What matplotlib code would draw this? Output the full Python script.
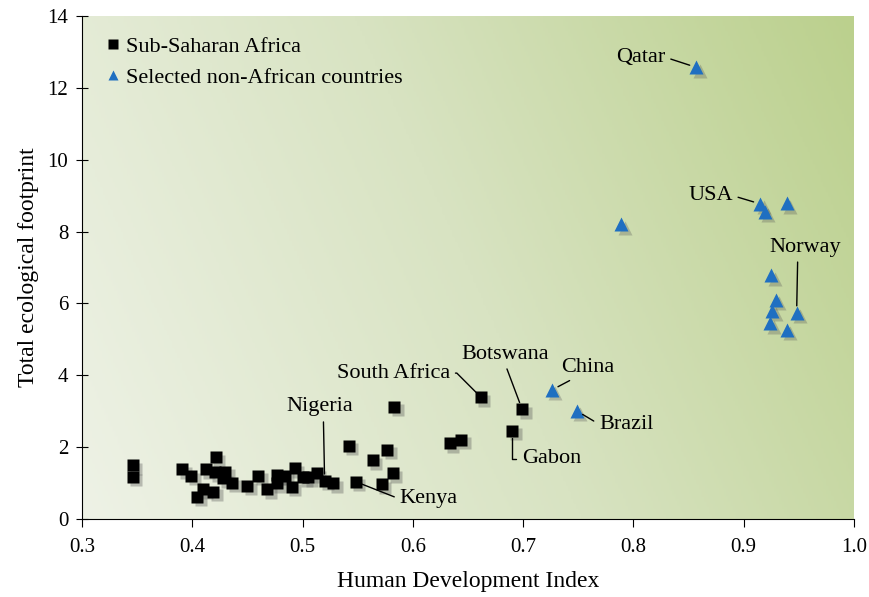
import numpy as np
import matplotlib.pyplot as plt
import matplotlib.transforms as mtransforms
from matplotlib.colors import LinearSegmentedColormap

plt.rcParams['font.family'] = ['Liberation Serif', 'DejaVu Serif']

# Sub-Saharan Africa (HDI, footprint)
africa_hdi = [0.346, 0.346, 0.391, 0.399, 0.4215, 0.412, 0.4206, 0.430, 0.428, 0.436,
              0.410, 0.4045, 0.419, 0.450, 0.460, 0.468, 0.4765, 0.4765, 0.484, 0.493,
              0.490, 0.5006, 0.505, 0.513, 0.520, 0.528, 0.548, 0.542, 0.5635, 0.577,
              0.582, 0.572, 0.583, 0.6336, 0.644, 0.6617, 0.699, 0.690]
africa_fp = [1.50, 1.17, 1.39, 1.20, 1.72, 1.39, 1.30, 1.32, 1.13, 1.01,
             0.83, 0.62, 0.75, 0.92, 1.20, 0.83, 1.22, 0.99, 1.20, 1.41,
             0.90, 1.16, 1.16, 1.27, 1.06, 0.99, 1.04, 2.04, 1.64, 1.92,
             1.27, 0.97, 3.13, 2.11, 2.20, 3.39, 3.06, 2.46]

# Selected non-African countries
other_hdi = [0.857, 0.789, 0.915, 0.919, 0.939, 0.925, 0.929, 0.926, 0.924, 0.948,
             0.939, 0.726, 0.7485]
other_fp = [12.57, 8.20, 8.77, 8.55, 8.79, 6.79, 6.10, 5.79, 5.45, 5.74,
            5.26, 3.59, 3.01]

# labels: name, (hdi, fp) of point, text position, alignment, relpos, connection
labels = [
    ('Qatar', (0.857, 12.57), (0.829, 12.85), 'right', (1.0, 0.5), 'arc3'),
    ('USA', (0.915, 8.77), (0.890, 9.0), 'right', (1.0, 0.5), 'arc3'),
    ('Norway', (0.948, 5.74), (0.9555, 7.57), 'center', (0.4, 0.0), 'arc3'),
    ('China', (0.726, 3.59), (0.7588, 4.23), 'center', (0.3, 0.0), 'arc3'),
    ('Brazil', (0.7485, 3.01), (0.7687, 2.64), 'left', (0.0, 0.5), 'arc3'),
    ('Gabon', (0.690, 2.46), (0.699, 1.67), 'left', (0.0, 0.5),
     'angle,angleA=0,angleB=90,rad=0'),
    ('Botswana', (0.699, 3.06), (0.6835, 4.59), 'center', (0.5, 0.0), 'arc3'),
    ('South Africa', (0.6617, 3.39), (0.6336, 4.06), 'right', (1.0, 0.5),
     'angle,angleA=0,angleB=135,rad=0'),
    ('Nigeria', (0.520, 1.06), (0.5158, 3.12), 'center', (0.55, 0.0), 'arc3'),
    ('Kenya', (0.548, 1.04), (0.588, 0.557), 'left', (0.0, 0.5), 'arc3'),
]

fig = plt.figure(figsize=(8.69, 5.97), dpi=100)
ax = fig.add_axes([0.0944, 0.1307, 0.8883, 0.8425])

# gradient background
gx, gy = np.meshgrid(np.linspace(0, 1, 300), np.linspace(0, 1, 200))
grad = 0.85 * gx + 0.25 * (1 - gy)
cmap = LinearSegmentedColormap.from_list('bg', ['#eef2e6', '#d8e3c2', '#bbd08d'])
ax.imshow(grad, extent=[0.3, 1.0, 0, 14], origin='upper', aspect='auto',
          cmap=cmap, vmin=0, vmax=1.1, zorder=0)

blue = '#1f6fc1'
shadow = mtransforms.offset_copy(ax.transData, fig=fig, x=2.5, y=-2.5, units='points')
ax.plot(africa_hdi, africa_fp, 's', ms=9, color='#555555', alpha=0.35,
        mec='none', transform=shadow, zorder=2)
ax.plot(other_hdi, other_fp, '^', ms=10, color='#555555', alpha=0.3,
        mec='none', transform=shadow, zorder=2)
ax.plot(africa_hdi, africa_fp, 's', ms=9, color='black', mec='none', zorder=3,
        label='Sub-Saharan Africa')
ax.plot(other_hdi, other_fp, '^', ms=10, color=blue, mec='none', zorder=3,
        label='Selected non-African countries')

for name, pt, txt, ha, rp, conn in labels:
    ax.annotate(name, xy=pt, xytext=txt, ha=ha, va='center', fontsize=16,
                arrowprops=dict(arrowstyle='-', color='black', lw=1.0,
                                relpos=rp, connectionstyle=conn,
                                shrinkA=2, shrinkB=5), zorder=4)

ax.set_xlim(0.3, 1.0)
ax.set_ylim(0, 14)
ax.set_xticks(np.arange(0.3, 1.01, 0.1))
ax.set_xticklabels(['0.3', '0.4', '0.5', '0.6', '0.7', '0.8', '0.9', '1.0'])
ax.set_yticks(range(0, 15, 2))
ax.tick_params(axis='x', direction='out', length=6, labelsize=15, pad=8)
ax.tick_params(axis='y', direction='inout', length=8, labelsize=15, pad=6)
for s in ['top', 'right']:
    ax.spines[s].set_visible(False)
ax.set_xlabel('Human Development Index', fontsize=17, labelpad=10)
ax.set_ylabel('Total ecological footprint', fontsize=17, labelpad=6)

leg = ax.legend(loc='upper left', frameon=False, fontsize=16, handletextpad=0.1,
                handlelength=1.0, markerscale=0.75, borderaxespad=0.5,
                labelspacing=0.5)

fig.savefig('out.png', dpi=100)
